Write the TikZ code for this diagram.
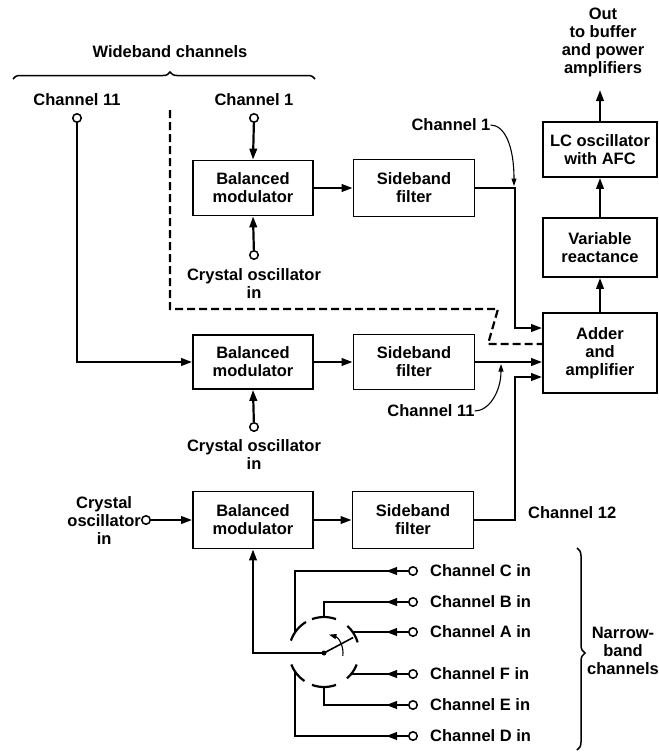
\documentclass[tikz,border=0pt]{standalone}
\usepackage{fontspec}
\setmainfont{Liberation Sans}
\usetikzlibrary{arrows.meta, decorations.pathreplacing, decorations.markings, calc}
\begin{document}
\begin{tikzpicture}[x=1pt, y=-1pt,
  every node/.style={font=\fontsize{16.5}{18}\selectfont\bfseries},
  blk/.style={draw, line width=1.8pt, inner sep=0pt, align=center, minimum width=120pt},
  wire/.style={line width=2.2pt},
  arr/.style={wire, -{Triangle[length=11pt,width=7.5pt]}},
  thinarr/.style={line width=1.1pt, -{Triangle[length=7.5pt,width=5pt]}},
  dashwire/.style={line width=2.2pt, dash pattern=on 8pt off 4pt},
  term/.style={circle, draw, fill=white, line width=1.5pt, minimum size=8.5pt, inner sep=0pt},
  lbl/.style={align=center, inner sep=0pt},
  midarr/.style={wire, postaction={decorate}, decoration={markings, mark=at position 22pt with {\arrow{Triangle[length=11pt,width=7.5pt]}}}},
  bracestyle/.style={line width=1.5pt, decorate}
]
\useasboundingbox (0,0) rectangle (659,753);

% blocks
\node[blk, minimum height=55pt] (bm1) at (253,188) {Balanced\\modulator};
\node[blk, minimum height=57pt, minimum width=121pt] (sf1) at (414,188) {Sideband\\filter};
\node[blk, minimum height=54pt] (bm2) at (253,362) {Balanced\\modulator};
\node[blk, minimum height=55pt, minimum width=121pt] (sf2) at (414,362) {Sideband\\filter};
\node[blk, minimum height=57pt] (bm3) at (253,520) {Balanced\\modulator};
\node[blk, minimum height=57pt, minimum width=121pt] (sf3) at (413,520) {Sideband\\filter};
\node[blk, minimum height=55pt, minimum width=114pt] (lc) at (600,149.5) {LC oscillator\\with AFC};
\node[blk, minimum height=59pt, minimum width=114pt] (vr) at (600,247.5) {Variable\\reactance};
\node[blk, minimum height=80pt, minimum width=114pt] (adder) at (600,353) {Adder\\and\\amplifier};

% top labels and braces
\node[lbl] (wb) at (170,52) {Wideband channels};
\draw[bracestyle, decoration={brace, amplitude=7pt, aspect=0.52}] (13,79) -- (315,79);

\node[lbl] (c11lab) at (77,100) {Channel 11};
\node[term] (t11) at (77,118) {};
\node[lbl] (c1lab) at (254,100) {Channel 1};
\node[term] (t1) at (254,118) {};
\node[term] (xo1) at (254,255) {};
\node[lbl] (xo1lab) at (254,284) {Crystal oscillator\\in};
\node[term] (xo2) at (254,427) {};
\node[lbl] (xo2lab) at (254,455) {Crystal oscillator\\in};
\node[term] (xo3) at (146,520) {};
\node[lbl, anchor=east] (xo3lab) at (141,521) {Crystal\\oscillator\\in};

\node[lbl] (outlab) at (603,42) {Out\\to buffer\\and power\\amplifiers};
\coordinate (out) at (600,90);

% wideband paths
\draw[arr] (t1) -- (bm1.north);
\draw[arr] (xo1) -- (bm1.south);
\draw[arr] (bm1) -- (sf1);
\coordinate (k1) at (515,328);
\draw[arr] (sf1.east) -| (k1) -- (k1 -| adder.west);

\draw[arr] (t11) |- (bm2.west);
\draw[arr] (xo2) -- (bm2.south);
\draw[arr] (bm2) -- (sf2);
\draw[arr] (sf2.east) -- (sf2.east -| adder.west);

\draw[arr] (xo3) -- (bm3.west);
\draw[arr] (bm3) -- (sf3);
\coordinate (k3) at (515,377);
\draw[arr] (sf3.east) -| (k3) -- (k3 -| adder.west);
\node[lbl, anchor=west] (c12lab) at (528,513) {Channel 12};

\draw[arr] (adder) -- (vr);
\draw[arr] (vr) -- (lc);
\draw[arr] (lc) -- (out);

% dashed boundary
\coordinate (d0) at (170,110);
\coordinate (d1) at (170,309);
\coordinate (d2) at (498,309);
\coordinate (d3) at (488,344);
\draw[dashwire] (d0) -- (d1) -- (d2) -- (d3) -- (d3 -| adder.west);

% curved labels
\node[lbl] (lab1) at (451,125) {Channel 1};
\coordinate (p1) at (514,186);
\draw[thinarr] (lab1.east) .. controls +(14,0) and +(0,-40) .. (p1);
\node[lbl] (lab11) at (431,411) {Channel 11};
\coordinate (p11) at (501,364);
\draw[thinarr] (lab11.east) .. controls +(14,0) and +(0,28) .. (p11);

% narrow-band switch
\coordinate (sw) at (324,652);
\foreach \a/\b in {-16/-48, 21/49, -121/-161, -201/-236, -70/-110, -250/-290}
  \draw[wire] ($(sw)+(\a:35)$) arc[start angle=\a, end angle=\b, radius=35];

\node[term] (tC) at (413,571) {};
\node[term] (tB) at (413,602) {};
\node[term] (tA) at (413,632) {};
\node[term] (tF) at (413,674) {};
\node[term] (tE) at (413,705) {};
\node[term] (tD) at (413,736) {};
\node[lbl, anchor=west] (lC) at (430,571) {Channel C in};
\node[lbl, anchor=west] (lB) at (430,602) {Channel B in};
\node[lbl, anchor=west] (lA) at (430,632) {Channel A in};
\node[lbl, anchor=west] (lF) at (430,674) {Channel F in};
\node[lbl, anchor=west] (lE) at (430,705) {Channel E in};
\node[lbl, anchor=west] (lD) at (430,736) {Channel D in};

\coordinate (sC) at (295,632.4);
\coordinate (sB) at (324,617);
\coordinate (sA) at (352.7,632);
\coordinate (sF) at (351.2,674);
\coordinate (sE) at (324,687);
\coordinate (sD) at (295,671.6);
\draw[midarr] (tC) -| (sC);
\draw[midarr] (tB) -| (sB);
\draw[midarr] (tA) -- (sA);
\draw[midarr] (tF) -- (sF);
\draw[midarr] (tE) -| (sE);
\draw[midarr] (tD) -| (sD);

\coordinate (piv) at (324,653);
\draw[arr] (piv) -| (bm3.south);
\fill (piv) circle (2.5pt);
\draw[line width=1.6pt] (piv) -- ++(-28:33);
\draw[thinarr] ($(piv)+(9:19)$) arc[start angle=9, end angle=-75, radius=19];

\draw[bracestyle, decoration={brace, amplitude=8pt, aspect=0.52}] (577,548) -- (577,750);
\node[lbl] (nb) at (623,651) {Narrow-\\band\\channels};
\end{tikzpicture}
\end{document}
